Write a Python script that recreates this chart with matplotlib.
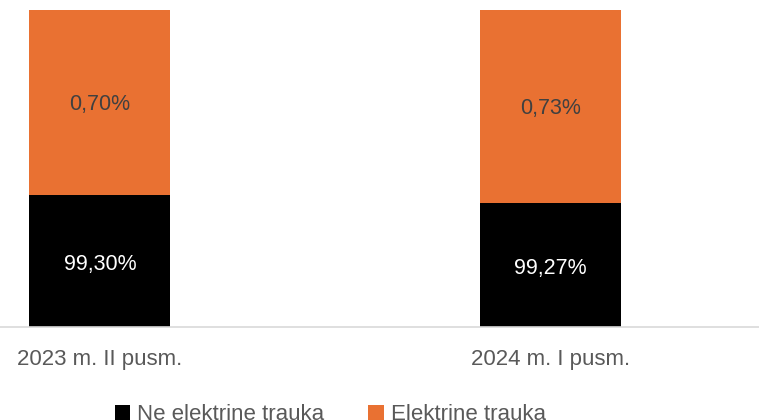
import matplotlib.pyplot as plt

# chart data
categories = ['2023 m. II pusm.', '2024 m. I pusm.']
ne_elektr = [99.30, 99.27]
elektr = [0.70, 0.73]
labels_ne = ['99,30%', '99,27%']
labels_el = ['0,70%', '0,73%']

plt.rcParams['font.family'] = ['Liberation Sans', 'DejaVu Sans']

fig = plt.figure(figsize=(7.59, 4.2), dpi=100)
ax = fig.add_axes([0, 0.2214, 1, 0.7548])

x = list(range(len(categories)))
b1 = ax.bar(x, ne_elektr, width=0.313, color='black', label='Ne elektrine trauka')
b2 = ax.bar(x, elektr, width=0.313, bottom=ne_elektr, color='#E97132', label='Elektrine trauka')

ax.set_ylim(98.8, 100)
ax.set_xlim(-0.222, 1.464)

for i in x:
    ax.text(i, (98.8 + ne_elektr[i]) / 2 - 0.015, labels_ne[i], ha='center', va='center',
            color='white', fontsize=15.5)
    ax.text(i, ne_elektr[i] + elektr[i] / 2 - 0.008, labels_el[i], ha='center', va='center',
            color='#404040', fontsize=15.5)

for s in ['top', 'right', 'left']:
    ax.spines[s].set_visible(False)
ax.spines['bottom'].set_color('#d9d9d9')
ax.spines['bottom'].set_linewidth(1.2)
ax.set_yticks([])
ax.set_xticks(x)
ax.set_xticklabels(categories, fontsize=16, color='#595959')
ax.tick_params(axis='x', length=0, pad=16)

fig.legend(handles=[b1, b2], loc='center', bbox_to_anchor=(0.435, 0.012), ncol=2,
           frameon=False, fontsize=16, labelcolor='#595959', handlelength=0.7,
           handleheight=0.7, handletextpad=0.3, columnspacing=2.0)

fig.savefig('out.png', dpi=100)
